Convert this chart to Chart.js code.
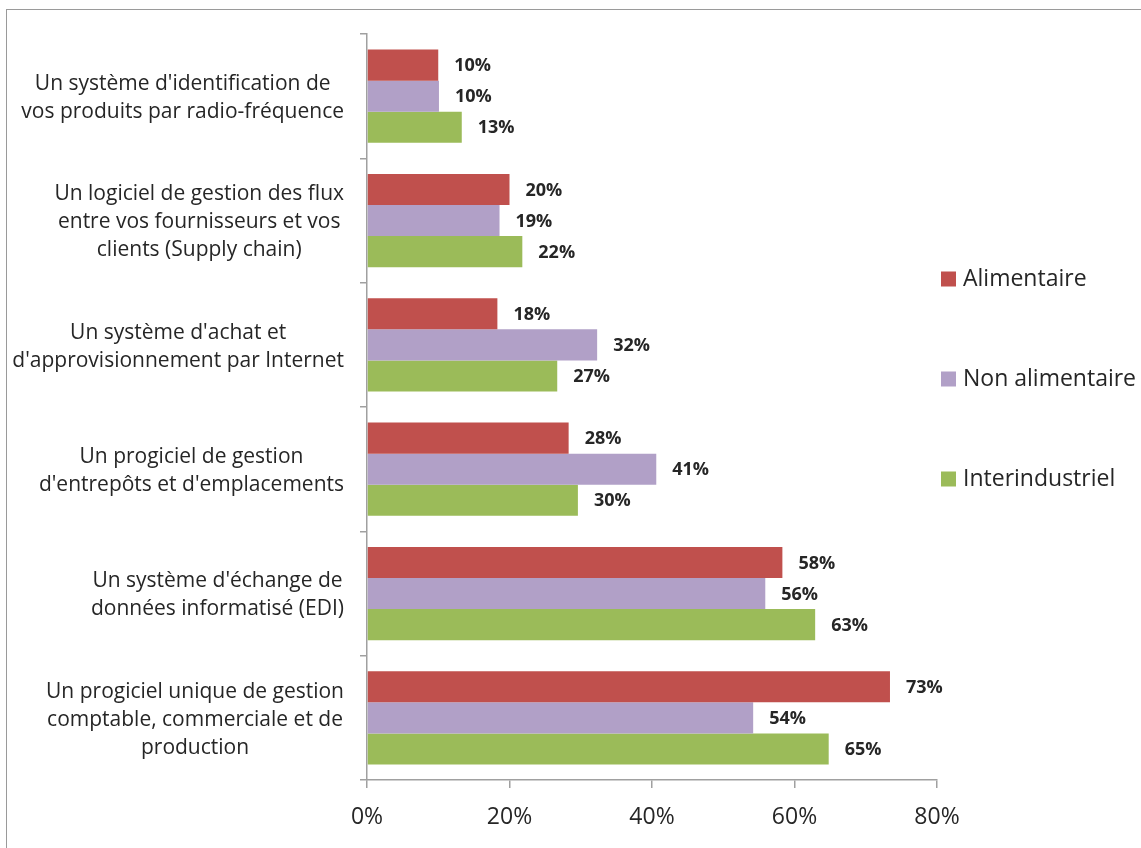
<!DOCTYPE html>
<html>
<head>
<meta charset="utf-8">
<script src="https://cdn.jsdelivr.net/npm/chart.js@4/dist/chart.umd.min.js"></script>
<style>
  html, body { margin: 0; padding: 0; background: #fff; overflow: hidden; }
  #frame { position: absolute; left: 6px; top: 9px; width: 1300px; height: 1000px;
           border-left: 1px solid #9a9a9a; border-top: 1px solid #9a9a9a; }
  #chart { position: absolute; left: 0; top: 0; }
</style>
</head>
<body>
<div id="frame"></div>
<canvas id="chart" width="1141" height="848"></canvas>
<script>
// Categories (top to bottom), each split into its display lines
var categories = [
    ["Un système d'identification de", "vos produits par radio-fréquence"],
    ["Un logiciel de gestion des flux", "entre vos fournisseurs et vos", "clients (Supply chain)"],
    ["Un système d'achat et", "d'approvisionnement par Internet"],
    ["Un progiciel de gestion", "d'entrepôts et d'emplacements"],
    ["Un système d'échange de", "données informatisé (EDI)"],
    ["Un progiciel unique de gestion", "comptable, commerciale et de", "production"]
];

var seriesNames = ['Alimentaire', 'Non alimentaire', 'Interindustriel'];
var seriesColors = ['#c0504d', '#b1a0c7', '#9bbb59'];

// values in %
var alimentaire = [10.0, 20.0, 18.3, 28.3, 58.3, 73.4];
var nonAlimentaire = [10.1, 18.6, 32.3, 40.6, 55.9, 54.2];
var interindustriel = [13.3, 21.8, 26.7, 29.6, 62.9, 64.8];

var xTicks = [0, 20, 40, 60, 80];

var AXIS_COLOR = '#a0a0a0';
var TEXT_COLOR = '#262626';
var FONT = "'Open Sans', sans-serif";

Chart.defaults.font.family = FONT;

// bold value labels just past the end of each bar
var valueLabels = {
    id: 'valueLabels',
    afterDatasetsDraw: function (chart) {
        var ctx = chart.ctx;
        ctx.save();
        ctx.font = 'bold 18px ' + FONT;
        ctx.fillStyle = TEXT_COLOR;
        ctx.textAlign = 'left';
        ctx.textBaseline = 'middle';
        chart.data.datasets.forEach(function (ds, di) {
            chart.getDatasetMeta(di).data.forEach(function (bar, i) {
                ctx.fillText(Math.round(ds.data[i]) + '%', bar.x + 16, bar.y + 1);
            });
        });
        ctx.restore();
    }
};

// category labels: block right-aligned to the axis, lines centred inside the block
var categoryLabels = {
    id: 'categoryLabels',
    afterDraw: function (chart) {
        var ctx = chart.ctx;
        var yScale = chart.scales.y;
        var right = chart.chartArea.left - 23;
        var lh = 28;
        ctx.save();
        ctx.font = '21px ' + FONT;
        ctx.fillStyle = TEXT_COLOR;
        ctx.textAlign = 'center';
        ctx.textBaseline = 'middle';
        categories.forEach(function (lines, i) {
            var w = 0;
            lines.forEach(function (l) { w = Math.max(w, ctx.measureText(l).width); });
            var cx = right - w / 2;
            var cy = yScale.getPixelForValue(i) + 2;
            var y0 = cy - (lines.length - 1) * lh / 2;
            lines.forEach(function (l, k) { ctx.fillText(l, cx, y0 + k * lh); });
        });
        ctx.restore();
    }
};

// legend on the right, stacked with wide spacing
var sideLegend = {
    id: 'sideLegend',
    afterDraw: function (chart) {
        var ctx = chart.ctx;
        var x = chart.chartArea.right + 4;
        ctx.save();
        ctx.font = '23px ' + FONT;
        ctx.textBaseline = 'middle';
        ctx.textAlign = 'left';
        seriesNames.forEach(function (name, i) {
            var cy = 279 + i * 100;
            ctx.fillStyle = seriesColors[i];
            ctx.fillRect(x, cy - 7.5, 15, 15);
            ctx.fillStyle = TEXT_COLOR;
            ctx.fillText(name, x + 22, cy);
        });
        ctx.restore();
    }
};

var seriesData = [alimentaire, nonAlimentaire, interindustriel];

new Chart(document.getElementById('chart').getContext('2d'), {
    type: 'bar',
    data: {
        labels: categories.map(function (c) { return c.join(' '); }),
        datasets: seriesData.map(function (d, i) {
            return {
                label: seriesNames[i],
                data: d,
                backgroundColor: seriesColors[i],
                borderWidth: 0,
                categoryPercentage: 0.75,
                barPercentage: 1.0
            };
        })
    },
    options: {
        indexAxis: 'y',
        responsive: false,
        animation: false,
        layout: { padding: { left: 7, right: 204, top: 34, bottom: 8 } },
        plugins: { legend: { display: false }, tooltip: { enabled: false } },
        scales: {
            x: {
                min: xTicks[0],
                max: xTicks[xTicks.length - 1],
                afterBuildTicks: function (scale) {
                    scale.ticks = xTicks.map(function (v) { return { value: v }; });
                },
                afterFit: function (scale) { scale.height = 60; },
                grid: { drawOnChartArea: false, drawTicks: true, tickLength: 8, color: AXIS_COLOR, lineWidth: 1.5 },
                border: { display: true, color: AXIS_COLOR, width: 1.5 },
                ticks: {
                    color: TEXT_COLOR,
                    font: { size: 23 },
                    padding: 16,
                    callback: function (v) { return v + '%'; }
                }
            },
            y: {
                afterFit: function (scale) { scale.width = 360; },
                grid: { drawOnChartArea: false, drawTicks: true, tickLength: 7, offset: true, color: AXIS_COLOR, lineWidth: 1.5 },
                border: { display: true, color: AXIS_COLOR, width: 1.5 },
                ticks: { display: false }
            }
        }
    },
    plugins: [valueLabels, categoryLabels, sideLegend]
});
</script>
</body>
</html>
